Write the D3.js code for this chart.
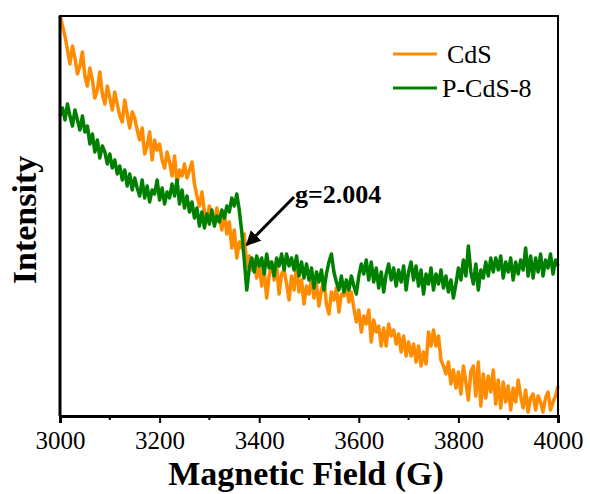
<!DOCTYPE html>
<html>
<head>
<meta charset="utf-8">
<style>
  body { margin: 0; background: #fff; }
  text { font-family: "Liberation Serif", "Times New Roman", serif; }
</style>
</head>
<body>
<svg id="chart" width="590" height="494"></svg>
<script src="https://d3js.org/d3.v7.min.js"></script>
<script>
  // magnetic field sampled every 5 G
  const field = d3.range(3000, 4001, 5)

  // intensity (a.u.)
  const cds = [401,390,380,366,352,370,358,342,350,364,
    340,330,348,336,318,326,344,322,312,330,
    318,306,324,312,300,294,316,302,288,304,
    298,286,276,288,262,270,284,256,276,266,
    272,256,248,264,254,240,260,232,246,240,
    252,238,246,254,232,220,210,224,204,198,
    210,200,192,208,198,186,204,182,194,168,
    186,158,174,168,182,150,160,146,156,138,
    152,130,146,118,140,154,136,150,122,142,
    146,132,116,140,126,150,124,136,112,130,
    122,138,118,132,110,126,136,112,102,124,
    116,128,104,122,120,130,114,124,108,94,
    106,84,100,92,106,74,96,84,90,70,
    88,70,92,80,86,72,82,64,80,60,
    74,60,72,54,70,50,64,52,84,70,
    86,70,80,56,50,42,54,32,46,28,
    44,22,50,34,16,44,50,20,54,10,
    42,18,40,24,46,12,36,8,34,14,
    30,6,28,14,36,20,8,26,4,18,
    22,6,20,14,4,18,24,6,14,20,
    30]

  const pcds = [300,308,296,312,300,290,306,296,286,300,
    284,290,272,282,264,276,258,270,264,252,
    262,248,256,242,250,236,246,230,242,226,
    238,228,220,236,218,230,214,226,222,236,
    216,228,212,224,218,232,220,236,212,226,
    208,220,204,214,198,208,190,204,188,202,
    192,206,190,200,194,206,198,210,204,218,
    210,222,206,184,156,126,148,158,144,160,
    150,158,142,162,148,154,140,158,150,162,
    146,162,150,158,146,160,140,154,138,152,
    136,148,128,144,134,146,126,142,154,162,
    144,134,126,140,124,136,126,140,130,122,
    140,152,142,156,136,154,134,148,128,144,
    124,142,152,136,148,130,146,134,150,126,
    144,154,136,150,130,146,122,142,132,148,
    126,142,132,146,128,140,124,136,118,132,
    148,136,156,140,170,144,132,152,126,146,
    138,154,140,158,144,158,146,160,138,154,
    144,158,136,154,142,156,146,168,140,160,
    138,158,144,162,140,156,148,162,142,156,
    150]

  const seriesNames = ['CdS', 'P-CdS-8']
  const seriesColors = ['#ff8c00', '#008000']
  const xTicks = [3000, 3200, 3400, 3600, 3800, 4000]
  const xMinorTicks = [3100, 3300, 3500, 3700, 3900]

  const svg = d3.select('#chart')
  const plotLeft = 60, plotRight = 558, plotTop = 16, plotBottom = 416

  const x = d3.scaleLinear().domain([3000, 4000]).range([plotLeft, plotRight])
  const y = d3.scaleLinear().domain([0, 400]).range([plotBottom, plotTop])

  const line = d3.line()
    .x((d, i) => x(field[i]))
    .y(d => y(d))

  // curves
  ;[cds, pcds].forEach((s, k) => {
    svg.append('path')
      .datum(s)
      .attr('d', line)
      .attr('fill', 'none')
      .attr('stroke', seriesColors[k])
      .attr('stroke-width', 3.5)
      .attr('stroke-linejoin', 'round')
  })

  // frame
  svg.append('rect')
    .attr('x', plotLeft).attr('y', plotTop)
    .attr('width', plotRight - plotLeft).attr('height', plotBottom - plotTop)
    .attr('fill', 'none').attr('stroke', '#000').attr('stroke-width', 2)
  svg.append('line')
    .attr('x1', plotLeft).attr('x2', plotLeft).attr('y1', plotTop).attr('y2', plotBottom)
    .attr('stroke', '#000').attr('stroke-width', 3)

  // bottom axis
  const xAxis = svg.append('g')
    .attr('transform', `translate(0,${plotBottom})`)
    .call(d3.axisBottom(x).tickValues(xTicks).tickSize(7).tickPadding(8).tickFormat(d3.format('d')))
  xAxis.select('.domain').attr('stroke-width', 3)
  xAxis.selectAll('.tick line').attr('stroke-width', 2)
  xAxis.selectAll('text')
    .style('font-family', '"Liberation Serif", serif')
    .style('font-size', '25px')
    .attr('fill', '#000')

  svg.append('g')
    .attr('transform', `translate(0,${plotBottom})`)
    .selectAll('line')
    .data(xMinorTicks)
    .join('line')
    .attr('x1', d => x(d)).attr('x2', d => x(d))
    .attr('y1', 0).attr('y2', 4)
    .attr('stroke', '#000').attr('stroke-width', 2)

  // axis titles
  svg.append('text')
    .attr('x', 306).attr('y', 485)
    .attr('text-anchor', 'middle')
    .style('font-size', '34px').style('font-weight', 'bold')
    .text('Magnetic Field (G)')

  svg.append('text')
    .attr('transform', 'translate(36,220) rotate(-90)')
    .attr('text-anchor', 'middle')
    .style('font-size', '34px').style('font-weight', 'bold')
    .text('Intensity')

  // legend
  seriesNames.forEach((name, k) => {
    const ly = 54 + k * 34
    svg.append('line')
      .attr('x1', 393).attr('x2', 437).attr('y1', ly).attr('y2', ly)
      .attr('stroke', seriesColors[k]).attr('stroke-width', 3)
    svg.append('text')
      .attr('x', k === 0 ? 447 : 442).attr('y', ly + 9)
      .style('font-size', '26px')
      .text(name)
  })

  // annotation
  svg.append('defs').append('marker')
    .attr('id', 'head')
    .attr('viewBox', '0 0 10 10')
    .attr('refX', 9).attr('refY', 5)
    .attr('markerWidth', 5).attr('markerHeight', 5)
    .attr('orient', 'auto')
    .append('path')
    .attr('d', 'M0,0L10,5L0,10z')
    .attr('fill', '#000')

  svg.append('line')
    .attr('x1', x(3470)).attr('y1', y(219))
    .attr('x2', x(3375)).attr('y2', y(171))
    .attr('stroke', '#000').attr('stroke-width', 3)
    .attr('marker-end', 'url(#head)')

  svg.append('text')
    .attr('x', 295).attr('y', 203)
    .style('font-size', '26px').style('font-weight', 'bold')
    .text('g=2.004')
</script>
</body>
</html>
